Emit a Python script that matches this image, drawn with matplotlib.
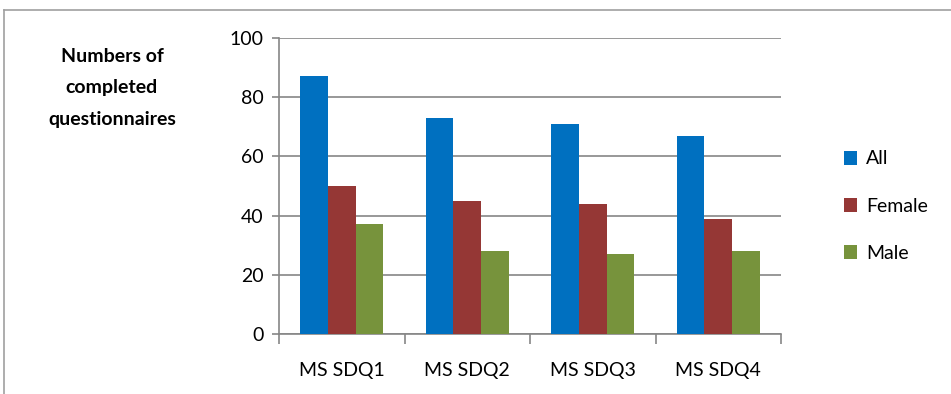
import numpy as np
import matplotlib
matplotlib.use("Agg")
from matplotlib import pyplot as plt
from matplotlib.lines import Line2D
from matplotlib.patches import Patch

# datos
categorias = ["MS SDQ1", "MS SDQ2", "MS SDQ3", "MS SDQ4"]
todos = [87, 73, 71, 67]
mujeres = [50, 45, 44, 39]
hombres = [37, 28, 27, 28]
series = ["All", "Female", "Male"]
colores = ["#0070C0", "#953735", "#77933C"]

plt.rcParams['font.family'] = ['Lato', 'DejaVu Sans']

fig = plt.figure(figsize=(9.51, 3.94), dpi=100)
ax = fig.add_axes([279/951, 60/394, 502/951, 296/394])

x = np.arange(len(categorias))
ancho = 0.22
for i, (vals, col) in enumerate(zip([todos, mujeres, hombres], colores)):
    ax.bar(x + (i - 1)*ancho, vals, ancho, color=col, zorder=3, label=series[i])

ax.set_ylim(0, 100)
ax.set_xlim(-0.5, len(categorias) - 0.5)
ax.set_yticks(np.arange(0, 101, 20))
ax.yaxis.grid(True, color="#868686", linewidth=1.2, zorder=0)
ax.set_xticks(x)
ax.set_xticklabels(categorias, fontsize=14)
ax.set_xticks(np.arange(-0.5, len(categorias), 1), minor=True)
ax.tick_params(axis='x', which='major', length=0, pad=20)
ax.tick_params(axis='x', which='minor', length=7, color="#868686", width=1.2)
ax.tick_params(axis='y', length=5, color="#868686", width=1.2, labelsize=14, pad=6)

for s in ["top", "right"]:
    ax.spines[s].set_visible(False)
for s in ["left", "bottom"]:
    ax.spines[s].set_color("#868686")
    ax.spines[s].set_linewidth(1.2)

fig.text(112/951, 1 - 88/394, "Numbers of\ncompleted\nquestionnaires",
         ha='center', va='center', fontsize=14, fontweight='bold',
         linespacing=2.05)

manijas = [Patch(facecolor=c) for c in colores]
fig.legend(manijas, series, loc='upper left', bbox_to_anchor=(826/951, 1 - 133/394),
           frameon=False, fontsize=14, handlelength=0.7, handleheight=0.7,
           labelspacing=1.55, handletextpad=0.45)

# marco exterior
fig.add_artist(Line2D([4/951, 1], [1 - 10/394, 1 - 10/394], color="#A0A0A0", linewidth=1.2))
fig.add_artist(Line2D([4/951, 4/951], [0, 1 - 10/394], color="#A0A0A0", linewidth=1.2))

fig.savefig("out.png", dpi=100)
